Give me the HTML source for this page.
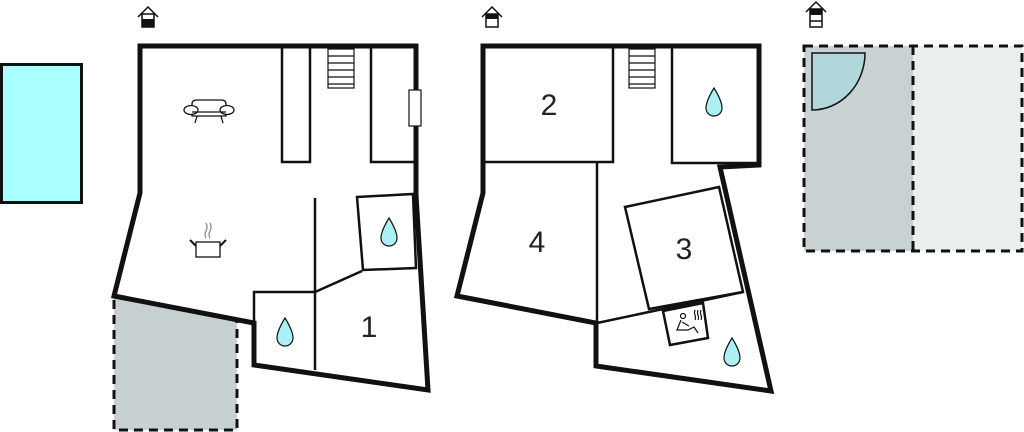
<!DOCTYPE html>
<html><head><meta charset="utf-8"><style>
html,body{margin:0;padding:0;background:#fff;width:1024px;height:432px;overflow:hidden}
svg{display:block}
text{font-family:"Liberation Sans",sans-serif;font-size:30px;fill:#222}
</style></head><body>
<svg width="1024" height="432" viewBox="0 0 1024 432" xmlns="http://www.w3.org/2000/svg">
<!-- pool -->
<rect x="1.5" y="64.5" width="80" height="138" fill="#aaffff" stroke="#111" stroke-width="3"/>

<!-- house icons -->
<g fill="none" stroke="#111" stroke-width="1.5">
<polyline points="138,17 148,7 158,17"/><rect x="142" y="14" width="12" height="13" fill="#fff"/>
<polyline points="482,17 492,7 502,17"/><rect x="486" y="14" width="12" height="13" fill="#fff"/>
<polyline points="806,12 816,2 826,12"/><rect x="810" y="9" width="12" height="18" fill="#fff"/>
</g>
<rect x="142" y="19" width="12" height="8" fill="#111"/>
<rect x="486" y="14" width="12" height="5" fill="#111"/>
<rect x="810" y="9" width="12" height="6" fill="#111"/><line x1="810" y1="21" x2="822" y2="21" stroke="#111" stroke-width="1.5"/>

<!-- plan 1 shaded -->
<polygon points="114,297 237,319 237,430 114,430" fill="#c8d1d2" stroke="#111" stroke-width="3" stroke-dasharray="9,6"/>
<!-- plan 1 outer -->
<polygon points="140,46 416,46 416,195 428,390 254,365 254,323 114,296 140,193" fill="#fff" stroke="#111" stroke-width="5" stroke-linejoin="miter"/>
<g fill="none" stroke="#111" stroke-width="2.5">
<polyline points="282,46 282,162 310,162 310,46"/>
<polyline points="371,46 371,162 414,162"/>
<polygon points="357,197 413,194 416,268 363,270"/>
<line x1="315" y1="198" x2="315" y2="370"/>
<polyline points="254,323 254,292 315,292 362,271"/>
</g>
<rect x="328" y="49" width="26" height="39" fill="#fff" stroke="#111" stroke-width="1.2"/>
<g stroke="#111" stroke-width="1.2"><line x1="328" y1="56" x2="354" y2="56"/><line x1="328" y1="63" x2="354" y2="63"/><line x1="328" y1="70" x2="354" y2="70"/><line x1="328" y1="77" x2="354" y2="77"/><line x1="328" y1="84" x2="354" y2="84"/></g>
<rect x="409" y="90" width="12" height="36" fill="#fff" stroke="#111" stroke-width="1.2"/>
<text x="369" y="337" text-anchor="middle">1</text>

<!-- sofa -->
<g fill="#fff" stroke="#111" stroke-width="1.3">
<path d="M192,104 Q192,100 197,100 L221,100 Q226,100 226,104 L226,116 L192,116 Z"/>
<ellipse cx="191" cy="110" rx="7" ry="4.5"/><ellipse cx="227" cy="110" rx="7" ry="4.5"/>
<line x1="197" y1="116" x2="195" y2="123"/><line x1="221" y1="116" x2="223" y2="123"/>
<line x1="192" y1="112" x2="226" y2="112"/>
</g>
<!-- pot -->
<g stroke="#111" stroke-width="1.3" fill="none">
<rect x="196" y="242" width="24" height="15" fill="#fff"/>
<line x1="190" y1="240" x2="196" y2="246" stroke-width="2"/><line x1="226" y1="240" x2="220" y2="246" stroke-width="2"/>
<path d="M206,238 q-2,-4 0,-7 q2,-4 0,-8" stroke="#888"/><path d="M210,238 q-2,-4 0,-7 q2,-4 0,-8" stroke="#888"/>
</g>

<!-- plan 2 outer -->
<polygon points="483,46 759,46 759,165 720,167 771,391 596,366 596,323 457,296 483,193" fill="#fff" stroke="#111" stroke-width="5"/>
<g fill="none" stroke="#111" stroke-width="2.5">
<polyline points="483,162 613,162 613,46"/>
<polyline points="672,46 672,163 759,163"/>
<line x1="597" y1="162" x2="597" y2="323"/>
<polygon points="625,207 719,187 743,292 649,309"/>
<line x1="597" y1="323" x2="743" y2="292"/>
<polygon points="663,311 703,303 708,338 670,345" fill="#fff"/>
</g>
<rect x="629" y="49" width="26" height="39" fill="#fff" stroke="#111" stroke-width="1.2"/>
<g stroke="#111" stroke-width="1.2"><line x1="629" y1="56" x2="655" y2="56"/><line x1="629" y1="63" x2="655" y2="63"/><line x1="629" y1="70" x2="655" y2="70"/><line x1="629" y1="77" x2="655" y2="77"/><line x1="629" y1="84" x2="655" y2="84"/></g>
<!-- sauna person -->
<g fill="none" stroke="#111" stroke-width="1.2">
<circle cx="683" cy="316" r="2.5"/>
<path d="M681,320 L677,330 L688,330 L694,327 L698,333"/>
<path d="M682,322 L689,326"/>
<path d="M695,310 q-1,3 0,5 q1,3 0,5 M698,310 q-1,3 0,5 q1,3 0,5 M701,310 q-1,3 0,5 q1,3 0,5"/>
</g>
<text x="549" y="115" text-anchor="middle">2</text>
<text x="537" y="252" text-anchor="middle">4</text>
<text x="684" y="259" text-anchor="middle">3</text>

<!-- drops -->
<g fill="#aaf0f5" stroke="#111" stroke-width="1.2">
<path d="M389,218 Q397,231 397,238 A8,8 0 0 1 381,238 Q381,231 389,218 Z"/>
<path d="M285,318 Q293,331 293,338 A8,8 0 0 1 277,338 Q277,331 285,318 Z"/>
<path d="M714,88 Q722,101 722,108 A8,8 0 0 1 706,108 Q706,101 714,88 Z"/>
<path d="M732,338 Q740,351 740,358 A8,8 0 0 1 724,358 Q724,351 732,338 Z"/>
</g>

<!-- plan 3 -->
<rect x="804" y="46" width="109" height="205" fill="#c8d2d3"/>
<rect x="913" y="46" width="109" height="205" fill="#eaeeee"/>
<g fill="none" stroke="#111" stroke-width="3" stroke-dasharray="9,6">
<rect x="804" y="46" width="218" height="205"/>
<line x1="913" y1="46" x2="913" y2="251"/>
</g>
<path d="M812,53 L865,53 A53,57 0 0 1 812,110 Z" fill="#b0d8da" stroke="#111" stroke-width="1.5"/>
</svg>
</body></html>
